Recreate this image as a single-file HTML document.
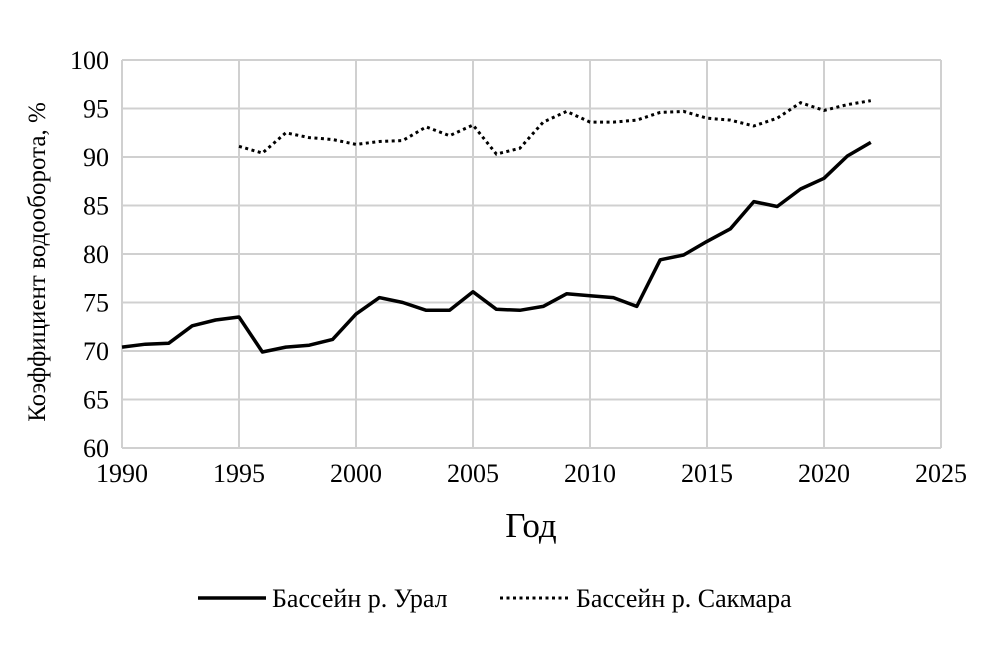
<!DOCTYPE html>
<html><head><meta charset="utf-8"><style>
body{margin:0;background:#fff}
text{font-family:"Liberation Serif","DejaVu Serif",serif;fill:#000}
</style></head><body>
<svg id="chart" width="1008" height="656" xmlns="http://www.w3.org/2000/svg">
<g id="grid"></g>
<g id="xticks"></g>
<g id="yticks"></g>
<g id="series"></g>
<text x="531" y="537" font-size="35" text-anchor="middle">Год</text>
<text transform="translate(45,262) rotate(-90)" font-size="25" text-anchor="middle">Коэффициент водооборота, %</text>
<g>
<g>
<line x1="198" y1="598" x2="266" y2="598" stroke="#000" stroke-width="3.5"/>
<text x="272" y="607" font-size="26">Бассейн р. Урал</text></g>
<g>
<line x1="500" y1="598" x2="568" y2="598" stroke="#000" stroke-width="3" stroke-dasharray="3,3.5"/>
<text x="576" y="607" font-size="26">Бассейн р. Сакмара</text></g>
</g>
</svg>
<script>
const xTicks=[1990,1995,2000,2005,2010,2015,2020,2025];
const yTicks=[60,65,70,75,80,85,90,95,100];
const uralYears=[1990,1991,1992,1993,1994,1995,1996,1997,1998,1999,2000,2001,2002,2003,2004,2005,2006,2007,2008,2009,2010,2011,2012,2013,2014,2015,2016,2017,2018,2019,2020,2021,2022];
const uralValues=[70.4,70.7,70.8,72.6,73.2,73.5,69.9,70.4,70.6,71.2,73.8,75.5,75.0,74.2,74.2,76.1,74.3,74.2,74.6,75.9,75.7,75.5,74.6,79.4,79.9,81.3,82.6,85.4,84.9,86.7,87.8,90.1,91.5];
const sakmaraYears=[1995,1996,1997,1998,1999,2000,2001,2002,2003,2004,2005,2006,2007,2008,2009,2010,2011,2012,2013,2014,2015,2016,2017,2018,2019,2020,2021,2022];
const sakmaraValues=[91.1,90.4,92.5,92.0,91.8,91.3,91.6,91.7,93.1,92.2,93.3,90.3,90.9,93.6,94.7,93.6,93.6,93.8,94.6,94.7,94.0,93.8,93.2,94.0,95.6,94.8,95.4,95.8];
const X0=122,X1=941,Y0=448,Y1=60;
const xs=v=>X0+(v-1990)/(2025-1990)*(X1-X0);
const ys=v=>Y0-(v-60)/(100-60)*(Y0-Y1);
const NS="http://www.w3.org/2000/svg";
function mk(t,a,p){const e=document.createElementNS(NS,t);for(const k in a)e.setAttribute(k,a[k]);p.appendChild(e);return e;}
const grid=document.getElementById('grid'),xt=document.getElementById('xticks'),yt=document.getElementById('yticks'),se=document.getElementById('series');
yTicks.forEach(v=>{const l=mk('line',{x1:X0,x2:X1,y1:ys(v),y2:ys(v),stroke:'#d0d0d0','stroke-width':2},grid);


const t=mk('text',{x:X0-13,y:ys(v)+9,'font-size':26,'text-anchor':'end'},yt);t.textContent=v;

});
xTicks.forEach(v=>{const l=mk('line',{x1:xs(v),x2:xs(v),y1:Y1,y2:Y0,stroke:'#d0d0d0','stroke-width':2},grid);


const t=mk('text',{x:xs(v),y:Y0+34,'font-size':26,'text-anchor':'middle'},xt);t.textContent=v;

});
const pts=(xa,va)=>xa.map((x,i)=>xs(x).toFixed(1)+','+ys(va[i]).toFixed(1)).join(' ');
const s2=mk('polyline',{points:pts(sakmaraYears,sakmaraValues),fill:'none',stroke:'#000','stroke-width':3,'stroke-dasharray':'3,3.5'},se);


const s1=mk('polyline',{points:pts(uralYears,uralValues),fill:'none',stroke:'#000','stroke-width':3.5,'stroke-linejoin':'round'},se);


</script>
</body></html>
